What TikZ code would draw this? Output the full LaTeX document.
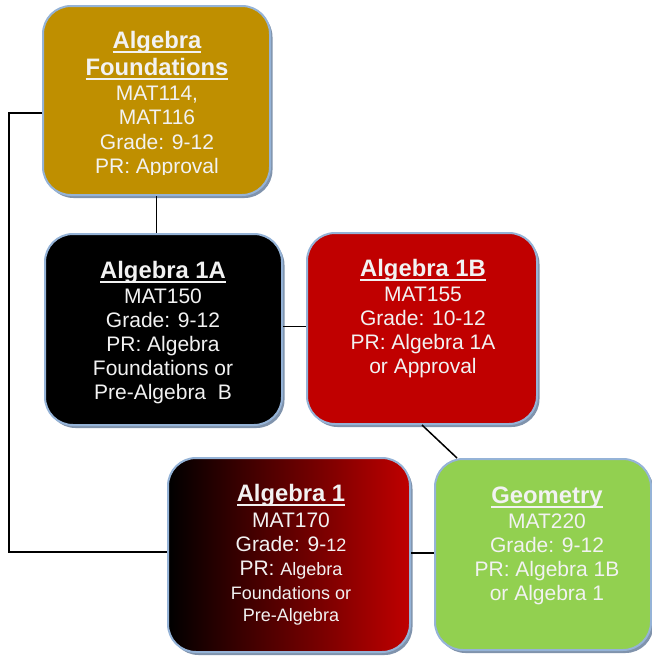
\documentclass[tikz,border=0pt]{standalone}
\usepackage{fontspec}
\setmainfont{Liberation Sans}
\usetikzlibrary{shadows}
\definecolor{gold}{HTML}{BF8F00}
\definecolor{dred}{HTML}{C00000}
\definecolor{lgreen}{HTML}{92D050}
\definecolor{bordc}{HTML}{95B3D7}
\definecolor{shadc}{HTML}{8093AC}
\definecolor{txtc}{HTML}{F2F2F2}
\newcommand{\myul}[1]{\setbox0\hbox{#1}\rlap{\raisebox{-4.6pt}{\rule{\wd0}{2pt}}}\box0}
\newcommand{\ttl}[1]{{\fontsize{23.8}{24}\selectfont\bfseries\myul{#1}}}
\newcommand{\sm}[1]{{\fontsize{18}{22}\selectfont #1}}
\tikzset{
  box/.style={draw=bordc, line width=2pt, rounded corners=28pt, inner sep=0pt,
    drop shadow={shadow xshift=2.5pt, shadow yshift=-3pt, fill=shadc, opacity=1}},
  txt/.style={text=txtc, align=center, inner sep=0pt, anchor=north,
    font=\fontsize{21}{24}\selectfont},
  link/.style={line width=1.5pt, black}
}
\begin{document}
\begin{tikzpicture}[x=1pt,y=-1pt]
\useasboundingbox (0,0) rectangle (652,659);
% boxes
\node[box, fill=gold, minimum width=227pt, minimum height=189pt] (f) at (156.5,100.5) {};
\node[box, fill=black, minimum width=237pt, minimum height=191pt] (a) at (163.5,329.5) {};
\node[box, fill=dred, minimum width=230pt, minimum height=191pt] (b) at (422,328.5) {};
\node[box, left color=black, right color=dred, minimum width=242pt, minimum height=194pt] (c) at (289,555) {};
\node[box, fill=lgreen, minimum width=216pt, minimum height=191pt] (g) at (543,554.5) {};
% connectors
\draw[link] ([yshift=-12.5pt]f.west) -- ++(-33,0) |- ([yshift=3pt]c.west);
\draw[link] (f.south) -- (f.south |- a.north);
\draw[link] ([yshift=3pt]a.east) -- ([yshift=3pt]a.east -| b.west);
\draw[link] (b.south) -- ([xshift=-86pt]g.north);
\draw[link] ([yshift=2pt]c.east) -- ([yshift=2pt]c.east -| g.west);
% texts
\begin{scope}
\clip (0,0) rectangle (652,174);
\node[txt, font=\fontsize{21}{24.6}\selectfont] (ft) at (157,31) {\strut\ttl{Algebra}\\[1.5pt]\ttl{Foundations}\\MAT114,\\MAT116\\Grade: 9-12\\PR: Approval};
\end{scope}
\node[txt] (at) at (163,261) {\strut\ttl{Algebra 1A}\\[1pt]MAT150\\Grade: 9-12\\PR: Algebra\\Foundations or\\Pre-Algebra\ \ B};
\node[txt] (bt) at (423,259) {\strut\ttl{Algebra 1B}\\[1pt]MAT155\\Grade: 10-12\\PR: Algebra 1A\\or Approval};
\node[txt] (ct) at (291,484) {\strut\ttl{Algebra 1}\\[2pt]MAT170\\Grade: 9-\sm{12}\\PR: \sm{Algebra}\\\sm{Foundations or}\\[-2pt]\sm{Pre-Algebra}};
\node[txt] (gt) at (547,486) {\strut\ttl{Geometry}\\[1pt]MAT220\\Grade: 9-12\\PR: Algebra 1B\\or Algebra 1};
\end{tikzpicture}
\end{document}
